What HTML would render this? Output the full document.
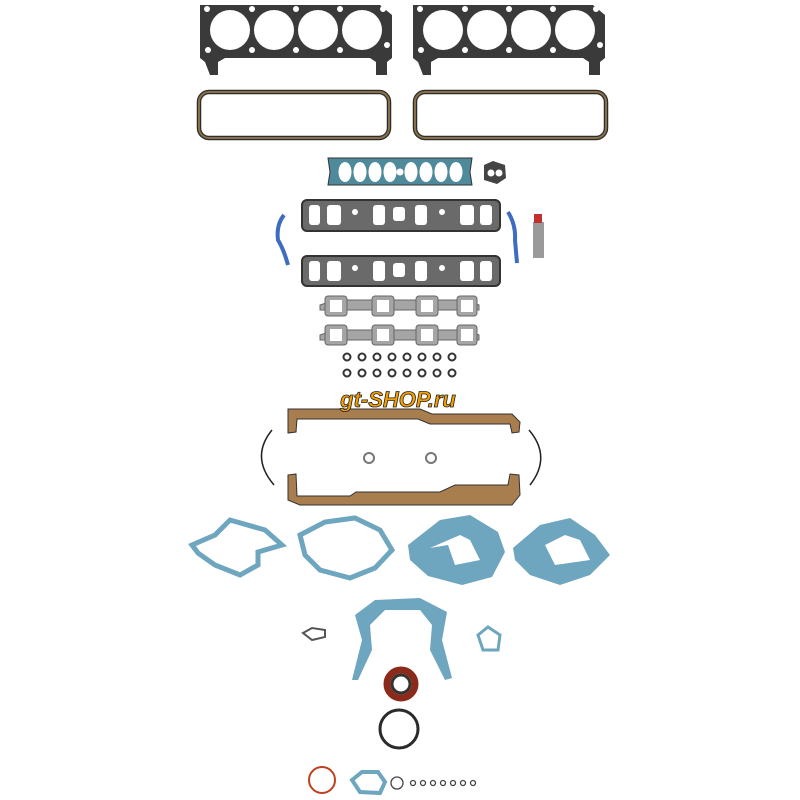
<!DOCTYPE html>
<html><head><style>html,body{margin:0;padding:0;background:#fff;width:800px;height:800px;overflow:hidden}</style></head>
<body>
<svg width="800" height="800" viewBox="0 0 800 800" xmlns="http://www.w3.org/2000/svg">
<rect width="800" height="800" fill="#fff"/>
<!-- head gaskets -->
<g>
<path d="M200 5 H380 L392 15 V58 L387 62 V75 L376 75 V62 L370 58 H225 L218 62 V75 L210 75 L205 62 L200 58 Z" fill="#3a3a3a"/>
<g fill="#fff"><circle cx="230" cy="30" r="20"/><circle cx="274" cy="30" r="20"/><circle cx="318" cy="30" r="20"/><circle cx="362" cy="30" r="20"/>
<circle cx="207" cy="9" r="3"/><circle cx="252" cy="9" r="3"/><circle cx="296" cy="9" r="3"/><circle cx="340" cy="9" r="3"/><circle cx="383" cy="9" r="3"/>
<circle cx="252" cy="50" r="3"/><circle cx="296" cy="50" r="3"/><circle cx="340" cy="50" r="3"/><circle cx="208" cy="50" r="3"/><circle cx="387" cy="45" r="3"/></g>
<path d="M413 5 H593 L605 15 V58 L600 62 V75 L589 75 V62 L583 58 H438 L431 62 V75 L423 75 L418 62 L413 58 Z" fill="#3a3a3a"/>
<g fill="#fff"><circle cx="443" cy="30" r="20"/><circle cx="487" cy="30" r="20"/><circle cx="531" cy="30" r="20"/><circle cx="575" cy="30" r="20"/>
<circle cx="420" cy="9" r="3"/><circle cx="465" cy="9" r="3"/><circle cx="509" cy="9" r="3"/><circle cx="553" cy="9" r="3"/><circle cx="596" cy="9" r="3"/>
<circle cx="465" cy="50" r="3"/><circle cx="509" cy="50" r="3"/><circle cx="553" cy="50" r="3"/><circle cx="421" cy="50" r="3"/><circle cx="600" cy="45" r="3"/></g>
</g>
<!-- valve cover gaskets -->
<rect x="199" y="92" width="190" height="46" rx="10" fill="none" stroke="#2c2c2c" stroke-width="4.5"/>
<rect x="199" y="92" width="190" height="46" rx="10" fill="none" stroke="#8a7048" stroke-width="2"/>
<rect x="415" y="92" width="191" height="46" rx="10" fill="none" stroke="#2c2c2c" stroke-width="4.5"/>
<rect x="415" y="92" width="191" height="46" rx="10" fill="none" stroke="#8a7048" stroke-width="2"/>
<!-- intake top -->
<path d="M328 158 H472 L470 172 L472 185 H328 L330 172 Z" fill="#4f8a9a" stroke="#333" stroke-width="1"/>
<g fill="#fff"><ellipse cx="345" cy="172" rx="6.5" ry="10"/><ellipse cx="360" cy="172" rx="6.5" ry="10"/><ellipse cx="375" cy="172" rx="6.5" ry="10"/><ellipse cx="390" cy="172" rx="6.5" ry="10"/><circle cx="400" cy="172" r="3.5"/><ellipse cx="411" cy="172" rx="6.5" ry="10"/><ellipse cx="426" cy="172" rx="6.5" ry="10"/><ellipse cx="441" cy="172" rx="6.5" ry="10"/><ellipse cx="456" cy="172" rx="6.5" ry="10"/></g>
<path d="M484 165 L493 161 L505 165 L506 178 L497 184 L484 180 Z" fill="#444"/><circle cx="491" cy="173" r="3.5" fill="#fff"/><circle cx="499" cy="173" r="3.5" fill="#fff"/>
<!-- intake manifold gaskets -->
<g>
<rect x="302" y="200" width="198" height="31" rx="5" fill="#6a6a6a" stroke="#333" stroke-width="2"/>
<g fill="#fff"><rect x="309" y="205" width="11" height="20" rx="3"/><rect x="327" y="205" width="14" height="20" rx="3"/><rect x="373" y="205" width="12" height="20" rx="3"/><rect x="393" y="207" width="12" height="14" rx="3"/><rect x="415" y="205" width="12" height="20" rx="3"/><rect x="460" y="205" width="14" height="20" rx="3"/><rect x="480" y="205" width="12" height="20" rx="3"/><circle cx="355" cy="212" r="3"/><circle cx="442" cy="212" r="3"/></g>
<rect x="302" y="256" width="198" height="30" rx="5" fill="#6a6a6a" stroke="#333" stroke-width="2"/>
<g fill="#fff"><rect x="309" y="261" width="11" height="20" rx="3"/><rect x="327" y="261" width="14" height="20" rx="3"/><rect x="373" y="261" width="12" height="20" rx="3"/><rect x="393" y="263" width="12" height="14" rx="3"/><rect x="415" y="261" width="12" height="20" rx="3"/><rect x="460" y="261" width="14" height="20" rx="3"/><rect x="480" y="261" width="12" height="20" rx="3"/><circle cx="355" cy="268" r="3"/><circle cx="442" cy="268" r="3"/></g>
</g>
<path d="M284 215 Q276 225 278 240 Q284 250 288 265" fill="none" stroke="#3d6cc0" stroke-width="4"/>
<path d="M508 212 Q516 225 515 240 Q516 252 517 263" fill="none" stroke="#3d6cc0" stroke-width="4"/>
<rect x="533" y="222" width="11" height="36" fill="#9a9a9a"/><rect x="534" y="214" width="8" height="9" fill="#c03030"/>
<!-- exhaust -->
<g fill="#a5a5a5" stroke="#666" stroke-width="1">
<path d="M320 305 L335 300 H468 L479 305 V310 H320 Z"/>
<rect x="325" y="296" width="22" height="20" rx="3"/><rect x="372" y="296" width="22" height="20" rx="3"/><rect x="416" y="296" width="22" height="20" rx="3"/><rect x="457" y="296" width="20" height="20" rx="3"/>
<path d="M320 335 L335 330 H468 L479 335 V340 H320 Z"/>
<rect x="325" y="325" width="22" height="20" rx="3"/><rect x="372" y="325" width="22" height="20" rx="3"/><rect x="416" y="325" width="22" height="20" rx="3"/><rect x="457" y="325" width="20" height="20" rx="3"/>
</g>
<g fill="#fff"><rect x="330" y="300" width="12" height="12"/><rect x="377" y="300" width="12" height="12"/><rect x="421" y="300" width="12" height="12"/><rect x="461" y="300" width="12" height="12"/>
<rect x="330" y="329" width="12" height="12"/><rect x="377" y="329" width="12" height="12"/><rect x="421" y="329" width="12" height="12"/><rect x="461" y="329" width="12" height="12"/></g>
<!-- small rings -->
<g fill="none" stroke="#333" stroke-width="2">
<circle cx="347" cy="357" r="3.5"/><circle cx="362" cy="357" r="3.5"/><circle cx="377" cy="357" r="3.5"/><circle cx="392" cy="357" r="3.5"/><circle cx="407" cy="357" r="3.5"/><circle cx="422" cy="357" r="3.5"/><circle cx="437" cy="357" r="3.5"/><circle cx="452" cy="357" r="3.5"/>
<circle cx="347" cy="373" r="3.5"/><circle cx="362" cy="373" r="3.5"/><circle cx="377" cy="373" r="3.5"/><circle cx="392" cy="373" r="3.5"/><circle cx="407" cy="373" r="3.5"/><circle cx="422" cy="373" r="3.5"/><circle cx="437" cy="373" r="3.5"/><circle cx="452" cy="373" r="3.5"/>
</g>
<!-- oil pan -->
<path d="M288 409 H420 L432 414 H512 L520 422 L519 432 L512 433 L510 424 H430 L418 419 H297 L296 432 L288 433 Z" fill="#a87e4f" stroke="#333" stroke-width="1"/>
<path d="M288 475 L296 474 L297 496 H350 L356 492 H440 L455 485 H508 L510 474 L519 475 L520 495 L512 505 H300 L288 500 Z" fill="#a87e4f" stroke="#333" stroke-width="1"/>
<path d="M272 430 Q250 457 274 485" fill="none" stroke="#222" stroke-width="1.5"/>
<path d="M529 430 Q552 457 530 485" fill="none" stroke="#222" stroke-width="1.5"/>
<circle cx="369" cy="458" r="5" fill="none" stroke="#777" stroke-width="2"/><circle cx="431" cy="458" r="5" fill="none" stroke="#777" stroke-width="2"/>
<!-- logo -->
<text x="398" y="407" text-anchor="middle" font-family="Liberation Sans, sans-serif" font-weight="bold" font-style="italic" font-size="22" fill="#f5a000" stroke="#222" stroke-width="0.8">gt-SHOP.ru</text>
<!-- water pump gaskets -->
<g fill="none" stroke="#6ea6bf" stroke-width="5">
<path d="M192 545 L215 535 L230 520 L265 530 L282 545 L258 552 L258 565 L240 575 L215 565 L198 553 Z"/>
<path d="M300 535 L325 522 L355 518 L380 530 L392 550 L375 568 L350 578 L320 570 L305 555 Z"/>
</g>
<path d="M408 545 L440 520 L470 515 L498 532 L505 552 L492 577 L462 585 L428 576 L410 560 Z M430 548 L448 545 L455 565 L480 560 L470 540 L460 535 Z" fill="#6ea6bf" fill-rule="evenodd"/>
<path d="M513 548 L540 525 L570 518 L595 535 L610 555 L590 575 L560 585 L530 575 L515 560 Z M535 550 L545 545 L555 565 L590 560 L580 540 L565 535 Z" fill="#6ea6bf" fill-rule="evenodd"/>
<!-- timing cover -->
<path d="M352 680 L362 640 L355 615 L375 600 L420 598 L447 612 L442 640 L452 678 L445 680 L430 650 L432 625 L420 610 L385 610 L370 625 L372 650 L358 680 Z" fill="#6ea6bf"/>
<path d="M303 633 L312 628 L325 630 L325 637 L312 640 Z" fill="none" stroke="#555" stroke-width="2"/>
<path d="M478 635 L488 627 L500 635 L498 650 L483 650 Z" fill="none" stroke="#6ea6bf" stroke-width="3"/>
<!-- seals -->
<circle cx="401" cy="684" r="14" fill="none" stroke="#8b2a1a" stroke-width="7"/>
<circle cx="401" cy="684" r="9" fill="none" stroke="#333" stroke-width="3"/>
<circle cx="399" cy="729" r="19" fill="none" stroke="#2b2b2b" stroke-width="3"/>
<circle cx="322" cy="780" r="13" fill="none" stroke="#c04020" stroke-width="2"/>
<path d="M352 780 L362 772 L378 772 L385 782 L380 793 L360 792 Z" fill="none" stroke="#6ea6bf" stroke-width="4"/>
<g fill="none" stroke="#444" stroke-width="1.3">
<circle cx="397" cy="783" r="6"/><circle cx="413" cy="783" r="2.5"/><circle cx="423" cy="783" r="2.5"/><circle cx="433" cy="783" r="2.5"/><circle cx="443" cy="783" r="2.5"/><circle cx="453" cy="783" r="2.5"/><circle cx="463" cy="783" r="2.5"/><circle cx="473" cy="783" r="2.5"/>
</g>
</svg>
</body></html>
